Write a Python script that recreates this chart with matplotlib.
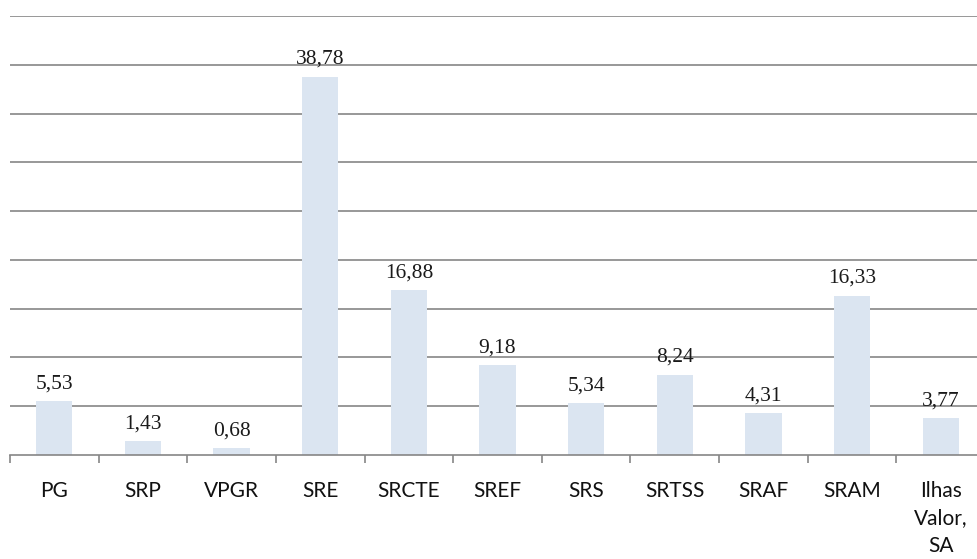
import matplotlib.pyplot as plt
import numpy as np

# data
categories = ["PG", "SRP", "VPGR", "SRE", "SRCTE", "SREF", "SRS",
              "SRTSS", "SRAF", "SRAM", "Ilhas\nValor,\nSA"]
values = [5.53, 1.43, 0.68, 38.78, 16.88, 9.18, 5.34, 8.24, 4.31, 16.33, 3.77]
value_labels = ["5,53", "1,43", "0,68", "38,78", "16,88", "9,18", "5,34",
                "8,24", "4,31", "16,33", "3,77"]

fig = plt.figure(figsize=(9.77, 5.59), dpi=100)
ax = fig.add_axes([10 / 977, 104 / 559, 975 / 977, 439 / 559])

index = np.arange(len(categories))
bars = ax.bar(index, values, 0.41, color="#dbe5f1", zorder=2)

for b, lab in zip(bars, value_labels):
    ax.text(b.get_x() + b.get_width() / 2, b.get_height() + 0.8, lab,
            ha="center", va="bottom", fontsize=15.5,
            family="Liberation Serif", color="#1a1a1a")

ax.set_xlim(-0.5, len(categories) - 0.5)
ax.set_ylim(0, 45)
ax.set_yticks(np.arange(5, 46, 5))
ax.yaxis.grid(True, color="#868686", linewidth=1.2)
ax.tick_params(axis="y", left=False, labelleft=False)

ax.set_xticks(index)
ax.set_xticklabels(categories, fontsize=15, family="Lato", va="top",
                   linespacing=1.45, color="#111111")
ax.set_xticks(np.arange(-0.5, len(categories)), minor=True)
ax.tick_params(axis="x", which="major", length=0, pad=19)
ax.tick_params(axis="x", which="minor", length=6, width=1.2, color="#868686")

for s in ["top", "right", "left"]:
    ax.spines[s].set_visible(False)
ax.spines["bottom"].set_color("#868686")
ax.spines["bottom"].set_linewidth(1.2)

plt.savefig("out.png", dpi=100)
